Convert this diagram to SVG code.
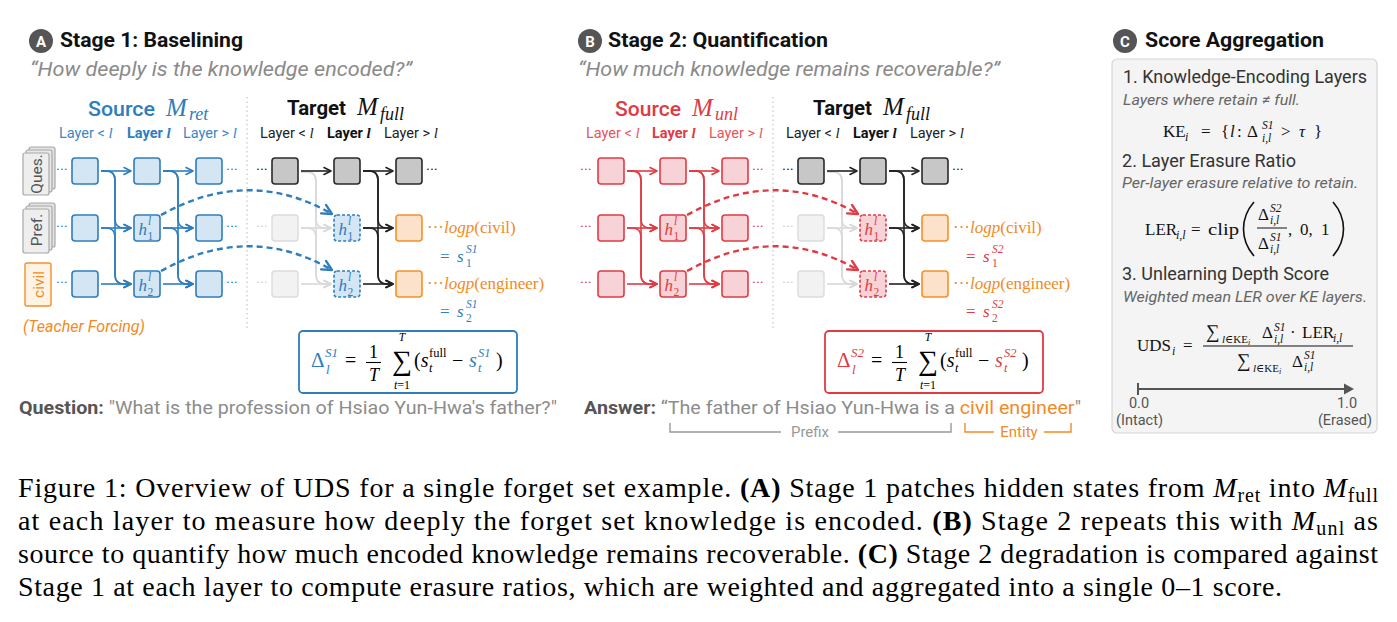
<svg xmlns="http://www.w3.org/2000/svg" width="1397" height="622" viewBox="0 0 1397 622">
<style>
.sans{font-family:Roboto,'Liberation Sans',sans-serif}
.math{font-family:'Liberation Serif','DejaVu Serif',serif}
.it{font-style:italic}
.b{font-weight:bold}
.sb{fill:#d4e5f3;stroke:#2e7dbd;stroke-width:1.6}
.sr{fill:#f7d2d6;stroke:#e03b44;stroke-width:1.6}
.tg{fill:#c7c7c7;stroke:#2a2a2a;stroke-width:1.6}
.tf{fill:#f2f2f2;stroke:#dcdcdc;stroke-width:1.4}
.or{fill:#fde2cb;stroke:#f5902a;stroke-width:1.6}
.pb{fill:#d4e5f3;stroke:#2e7dbd;stroke-width:1.6;stroke-dasharray:3 2}
.pr{fill:#f7d2d6;stroke:#e03b44;stroke-width:1.6;stroke-dasharray:3 2}
.cb{fill:none;stroke:#2e7dbd;stroke-width:1.6}
.cr{fill:none;stroke:#e03b44;stroke-width:1.6}
.ck{fill:none;stroke:#222;stroke-width:1.6}
.cg{fill:none;stroke:#d9d9d9;stroke-width:1.6}
.db{fill:none;stroke:#2e7dbd;stroke-width:2.4;stroke-dasharray:6 4}
.dr{fill:none;stroke:#e03b44;stroke-width:2.4;stroke-dasharray:6 4}
.sep{stroke:#c8c8c8;stroke-width:1.3;stroke-dasharray:1.5 3}
.blue{fill:#2e7dbd}
.red{fill:#e03b44}
.orange{fill:#f28a24}
.lay{font-family:Roboto,'Liberation Sans',sans-serif;font-size:14.5px}
.cap{font-family:'Liberation Serif','Times New Roman',serif;font-size:28px;fill:#000}
</style>
<defs>
<marker id="mb" viewBox="0 0 10 10" refX="9" refY="5" markerWidth="10" markerHeight="10" markerUnits="userSpaceOnUse" orient="auto"><path d="M2,1.5 L9,5 L2,8.5" fill="none" stroke="#2e7dbd" stroke-width="1.6" stroke-linecap="round" stroke-linejoin="round"/></marker>
<marker id="mr" viewBox="0 0 10 10" refX="9" refY="5" markerWidth="10" markerHeight="10" markerUnits="userSpaceOnUse" orient="auto"><path d="M2,1.5 L9,5 L2,8.5" fill="none" stroke="#e03b44" stroke-width="1.6" stroke-linecap="round" stroke-linejoin="round"/></marker>
<marker id="mk" viewBox="0 0 10 10" refX="9" refY="5" markerWidth="10" markerHeight="10" markerUnits="userSpaceOnUse" orient="auto"><path d="M2,1.5 L9,5 L2,8.5" fill="none" stroke="#222" stroke-width="1.6" stroke-linecap="round" stroke-linejoin="round"/></marker>
<marker id="mg" viewBox="0 0 10 10" refX="9" refY="5" markerWidth="10" markerHeight="10" markerUnits="userSpaceOnUse" orient="auto"><path d="M2,1.5 L9,5 L2,8.5" fill="none" stroke="#d9d9d9" stroke-width="1.6" stroke-linecap="round" stroke-linejoin="round"/></marker>
<marker id="mdb" viewBox="0 0 12 12" refX="11" refY="6" markerWidth="13" markerHeight="13" markerUnits="userSpaceOnUse" orient="auto"><path d="M2,1.5 L11,6 L2,10.5" fill="none" stroke="#2e7dbd" stroke-width="2.2" stroke-linecap="round" stroke-linejoin="round"/></marker>
<marker id="mdr" viewBox="0 0 12 12" refX="11" refY="6" markerWidth="13" markerHeight="13" markerUnits="userSpaceOnUse" orient="auto"><path d="M2,1.5 L11,6 L2,10.5" fill="none" stroke="#e03b44" stroke-width="2.2" stroke-linecap="round" stroke-linejoin="round"/></marker>
</defs>
<rect width="1397" height="622" fill="#fff"/>

<!-- ===== Headers ===== -->
<g id="header-a">
<circle cx="41" cy="41" r="12" fill="#555"/>
<text class="sans b" x="41" y="46.5" font-size="15" fill="#fff" text-anchor="middle">A</text>
<text class="sans b" x="60" y="47" font-size="21" fill="#111" textLength="183" lengthAdjust="spacingAndGlyphs">Stage 1: Baselining</text>
<text class="sans it" x="30" y="76" font-size="20.5" fill="#8a8a8a" textLength="382" lengthAdjust="spacingAndGlyphs">“How deeply is the knowledge encoded?”</text>
</g>
<g id="header-b">
<circle cx="590" cy="41" r="12" fill="#555"/>
<text class="sans b" x="590" y="46.5" font-size="15" fill="#fff" text-anchor="middle">B</text>
<text class="sans b" x="608" y="47" font-size="21" fill="#111" textLength="220" lengthAdjust="spacingAndGlyphs">Stage 2: Quantification</text>
<text class="sans it" x="578" y="76" font-size="20.5" fill="#8a8a8a" textLength="422" lengthAdjust="spacingAndGlyphs">“How much knowledge remains recoverable?”</text>
</g>
<g id="header-c">
<circle cx="1125" cy="41" r="12" fill="#555"/>
<text class="sans b" x="1125" y="46.5" font-size="15" fill="#fff" text-anchor="middle">C</text>
<text class="sans b" x="1145" y="47" font-size="21" fill="#111" textLength="179" lengthAdjust="spacingAndGlyphs">Score Aggregation</text>
</g>

<!-- ===== Stage 1 titles ===== -->
<g id="s1-titles">
<text class="sans" x="88" y="116" font-size="21" font-weight="500" fill="#2e7dbd" textLength="67" lengthAdjust="spacingAndGlyphs">Source</text>
<text class="math it" x="166" y="116" font-size="25" fill="#2e7dbd">M</text>
<text class="math it" x="189" y="120" font-size="18" fill="#2e7dbd">ret</text>
<text class="lay" x="59" y="138" fill="#3b87c6">Layer &lt; <tspan class="math it" font-size="15">l</tspan></text>
<text class="lay b" x="127" y="138" fill="#2e7dbd">Layer <tspan class="math it b" font-size="15">l</tspan></text>
<text class="lay" x="183" y="138" fill="#3b87c6">Layer &gt; <tspan class="math it" font-size="15">l</tspan></text>
<line class="sep" x1="247" y1="97" x2="247" y2="330"/>
<text class="sans b" x="287" y="115" font-size="21" fill="#111" textLength="59" lengthAdjust="spacingAndGlyphs">Target</text>
<text class="math it" x="357" y="115" font-size="25" fill="#111">M</text>
<text class="math it" x="380" y="120" font-size="18" fill="#111">full</text>
<text class="lay" x="260" y="138" fill="#222">Layer &lt; <tspan class="math it" font-size="15">l</tspan></text>
<text class="lay b" x="327" y="138" fill="#111">Layer <tspan class="math it b" font-size="15">l</tspan></text>
<text class="lay" x="384" y="138" fill="#222">Layer &gt; <tspan class="math it" font-size="15">l</tspan></text>
</g>

<!-- ===== Stage 2 titles ===== -->
<g id="s2-titles">
<text class="sans" x="615" y="116" font-size="21" font-weight="500" fill="#e03b44" textLength="66" lengthAdjust="spacingAndGlyphs">Source</text>
<text class="math it" x="692" y="116" font-size="25" fill="#e03b44">M</text>
<text class="math it" x="715" y="120" font-size="18" fill="#e03b44">unl</text>
<text class="lay" x="586" y="138" fill="#e8545c">Layer &lt; <tspan class="math it" font-size="15">l</tspan></text>
<text class="lay b" x="652" y="138" fill="#e03b44">Layer <tspan class="math it b" font-size="15">l</tspan></text>
<text class="lay" x="709" y="138" fill="#e8545c">Layer &gt; <tspan class="math it" font-size="15">l</tspan></text>
<line class="sep" x1="773" y1="97" x2="773" y2="330"/>
<text class="sans b" x="813" y="115" font-size="21" fill="#111" textLength="59" lengthAdjust="spacingAndGlyphs">Target</text>
<text class="math it" x="883" y="115" font-size="25" fill="#111">M</text>
<text class="math it" x="906" y="120" font-size="18" fill="#111">full</text>
<text class="lay" x="786" y="138" fill="#222">Layer &lt; <tspan class="math it" font-size="15">l</tspan></text>
<text class="lay b" x="853" y="138" fill="#111">Layer <tspan class="math it b" font-size="15">l</tspan></text>
<text class="lay" x="910" y="138" fill="#222">Layer &gt; <tspan class="math it" font-size="15">l</tspan></text>
</g>

<!-- ===== Connectors ===== -->
<g id="connectors">
 <g id="s1-conn">
  <g class="cb" marker-end="url(#mb)">
   <path d="M101,171H131"/><path d="M101,228H131"/><path d="M101,284H131"/>
   <path d="M101,171H106Q115,171 115,180V219Q115,228 124,228H131"/>
   <path d="M101,171H106Q115,171 115,180V275Q115,284 124,284H131"/>
   <path d="M101,228H106Q115,228 115,237V275Q115,284 124,284H131"/>
   <path d="M163,171H193"/><path d="M163,228H193"/><path d="M163,284H193"/>
   <path d="M163,171H169Q178,171 178,180V219Q178,228 187,228H193"/>
   <path d="M163,171H169Q178,171 178,180V275Q178,284 187,284H193"/>
   <path d="M163,228H169Q178,228 178,237V275Q178,284 187,284H193"/>
  </g>
  <g class="cg" marker-end="url(#mg)">
   <path d="M301,228H331"/><path d="M301,284H331"/>
   <path d="M301,172H307Q316,172 316,181V219Q316,228 325,228H331"/>
   <path d="M301,172H307Q316,172 316,181V275Q316,284 325,284H331"/>
   <path d="M301,228H307Q316,228 316,237V275Q316,284 325,284H331"/>
  </g>
  <g class="ck" marker-end="url(#mk)">
   <path d="M301,171H331"/>
   <path d="M363,171H393"/><path d="M363,228H393"/><path d="M363,284H393"/>
   <path d="M363,171H369Q378,171 378,180V219Q378,228 387,228H393"/>
   <path d="M363,171H369Q378,171 378,180V275Q378,284 387,284H393"/>
   <path d="M363,228H369Q378,228 378,237V275Q378,284 387,284H393"/>
  </g>
  <path class="db" d="M161,215Q249,166 332,214" marker-end="url(#mdb)"/>
  <path class="db" d="M161,271Q249,222 332,270" marker-end="url(#mdb)"/>
 </g>
 <g id="s2-conn" transform="translate(526,0)">
  <g class="cr" marker-end="url(#mr)">
   <path d="M101,171H131"/><path d="M101,228H131"/><path d="M101,284H131"/>
   <path d="M101,171H106Q115,171 115,180V219Q115,228 124,228H131"/>
   <path d="M101,171H106Q115,171 115,180V275Q115,284 124,284H131"/>
   <path d="M101,228H106Q115,228 115,237V275Q115,284 124,284H131"/>
   <path d="M163,171H193"/><path d="M163,228H193"/><path d="M163,284H193"/>
   <path d="M163,171H169Q178,171 178,180V219Q178,228 187,228H193"/>
   <path d="M163,171H169Q178,171 178,180V275Q178,284 187,284H193"/>
   <path d="M163,228H169Q178,228 178,237V275Q178,284 187,284H193"/>
  </g>
  <g class="cg" marker-end="url(#mg)">
   <path d="M301,228H331"/><path d="M301,284H331"/>
   <path d="M301,172H307Q316,172 316,181V219Q316,228 325,228H331"/>
   <path d="M301,172H307Q316,172 316,181V275Q316,284 325,284H331"/>
   <path d="M301,228H307Q316,228 316,237V275Q316,284 325,284H331"/>
  </g>
  <g class="ck" marker-end="url(#mk)">
   <path d="M301,171H331"/>
   <path d="M363,171H393"/><path d="M363,228H393"/><path d="M363,284H393"/>
   <path d="M363,171H369Q378,171 378,180V219Q378,228 387,228H393"/>
   <path d="M363,171H369Q378,171 378,180V275Q378,284 387,284H393"/>
   <path d="M363,228H369Q378,228 378,237V275Q378,284 387,284H393"/>
  </g>
  <path class="dr" d="M161,215Q249,166 332,214" marker-end="url(#mdr)"/>
  <path class="dr" d="M161,271Q249,222 332,270" marker-end="url(#mdr)"/>
 </g>
</g>

<!-- ===== Stage 1 input cards ===== -->
<g id="card-ques">
 <rect x="29" y="147" width="26" height="42" rx="2" fill="#e2e2e2" stroke="#a8a8a8" stroke-width="1.2"/>
 <rect x="26" y="150" width="26" height="42" rx="2" fill="#e8e8e8" stroke="#a8a8a8" stroke-width="1.2"/>
 <rect x="23" y="153" width="26" height="42" rx="2" fill="#eeeeee" stroke="#a8a8a8" stroke-width="1.2"/>
 <text class="sans" transform="translate(41.5,174) rotate(-90)" font-size="15.5" fill="#555" text-anchor="middle">Ques.</text>
</g>
<g id="card-pref">
 <rect x="29" y="203" width="26" height="44" rx="2" fill="#e2e2e2" stroke="#a8a8a8" stroke-width="1.2"/>
 <rect x="26" y="206" width="26" height="44" rx="2" fill="#e8e8e8" stroke="#a8a8a8" stroke-width="1.2"/>
 <rect x="23" y="209" width="26" height="44" rx="2" fill="#eeeeee" stroke="#a8a8a8" stroke-width="1.2"/>
 <text class="sans" transform="translate(41.5,230) rotate(-90)" font-size="15.5" fill="#555" text-anchor="middle">Pref.</text>
</g>
<g id="card-civil">
 <rect x="25" y="263" width="26" height="43" rx="2" fill="#fff3e6" stroke="#f5902a" stroke-width="1.4"/>
 <text class="sans" transform="translate(43.5,284.5) rotate(-90)" font-size="15.5" fill="#f28a24" text-anchor="middle">civil</text>
</g>
<text id="teacher-forcing" class="sans it" x="23" y="332" font-size="16" fill="#f28a24" textLength="122" lengthAdjust="spacingAndGlyphs">(Teacher Forcing)</text>

<!-- ===== Stage 1 nodes ===== -->
<g id="s1-dots" class="sans" font-size="15">
 <text x="56" y="175" fill="#2e7dbd">···</text><text x="56" y="232" fill="#2e7dbd">···</text><text x="56" y="288" fill="#2e7dbd">···</text>
 <text x="226" y="175" fill="#2e7dbd">···</text><text x="226" y="232" fill="#2e7dbd">···</text><text x="226" y="288" fill="#2e7dbd">···</text>
 <text x="256" y="175" fill="#222">···</text><text x="256" y="232" fill="#cfcfcf">···</text><text x="256" y="288" fill="#cfcfcf">···</text>
 <text x="426" y="175" fill="#222">···</text>
</g>
<g id="s1-src-r1c1"><rect class="sb" x="72" y="158" width="26" height="26" rx="3"/></g>
<g id="s1-src-r2c1"><rect class="sb" x="72" y="215" width="26" height="26" rx="3"/></g>
<g id="s1-src-r3c1"><rect class="sb" x="72" y="271" width="26" height="26" rx="3"/></g>
<g id="s1-src-r1c2"><rect class="sb" x="134" y="158" width="26" height="26" rx="3"/></g>
<g id="s1-src-h1"><rect class="sb" x="134" y="215" width="26" height="26" rx="3"/>
 <text class="math it blue" x="138.5" y="234.5" font-size="17">h</text><text class="math it blue" x="148" y="225" font-size="11.5">l</text><text class="math blue" x="147.5" y="239.5" font-size="11.5">1</text></g>
<g id="s1-src-h2"><rect class="sb" x="134" y="271" width="26" height="26" rx="3"/>
 <text class="math it blue" x="138.5" y="290.5" font-size="17">h</text><text class="math it blue" x="148" y="281" font-size="11.5">l</text><text class="math blue" x="147.5" y="295.5" font-size="11.5">2</text></g>
<g id="s1-src-r1c3"><rect class="sb" x="196" y="158" width="26" height="26" rx="3"/></g>
<g id="s1-src-r2c3"><rect class="sb" x="196" y="215" width="26" height="26" rx="3"/></g>
<g id="s1-src-r3c3"><rect class="sb" x="196" y="271" width="26" height="26" rx="3"/></g>
<g id="s1-tgt-r1c1"><rect class="tg" x="272" y="158" width="26" height="26" rx="3"/></g>
<g id="s1-tgt-r2c1"><rect class="tf" x="272" y="215" width="26" height="26" rx="3"/></g>
<g id="s1-tgt-r3c1"><rect class="tf" x="272" y="271" width="26" height="26" rx="3"/></g>
<g id="s1-tgt-r1c2"><rect class="tg" x="334" y="158" width="26" height="26" rx="3"/></g>
<g id="s1-tgt-h1"><rect class="pb" x="334" y="215" width="26" height="26" rx="3"/>
 <text class="math it blue" x="338.5" y="234.5" font-size="17">h</text><text class="math it blue" x="348" y="225" font-size="11.5">l</text><text class="math blue" x="347.5" y="239.5" font-size="11.5">1</text></g>
<g id="s1-tgt-h2"><rect class="pb" x="334" y="271" width="26" height="26" rx="3"/>
 <text class="math it blue" x="338.5" y="290.5" font-size="17">h</text><text class="math it blue" x="348" y="281" font-size="11.5">l</text><text class="math blue" x="347.5" y="295.5" font-size="11.5">2</text></g>
<g id="s1-tgt-r1c3"><rect class="tg" x="396" y="158" width="26" height="26" rx="3"/></g>
<g id="s1-out-civil"><rect class="or" x="396" y="215" width="26" height="26" rx="3"/>
 <text class="math orange" x="427" y="233" font-size="17">···<tspan class="it">logp</tspan>(civil)</text>
 <text class="math blue" x="440" y="262" font-size="17">=</text><text class="math it blue" x="457" y="262" font-size="17">s</text>
 <text class="math it blue" x="466" y="253" font-size="11.5">S1</text><text class="math blue" x="466" y="267" font-size="11.5">1</text></g>
<g id="s1-out-engineer"><rect class="or" x="396" y="271" width="26" height="26" rx="3"/>
 <text class="math orange" x="427" y="289" font-size="17">···<tspan class="it">logp</tspan>(engineer)</text>
 <text class="math blue" x="440" y="317" font-size="17">=</text><text class="math it blue" x="457" y="317" font-size="17">s</text>
 <text class="math it blue" x="466" y="308" font-size="11.5">S1</text><text class="math blue" x="466" y="322" font-size="11.5">2</text></g>

<g id="s1-formula">
 <rect x="299" y="331" width="218" height="62" rx="4" fill="#fff" stroke="#2e7dbd" stroke-width="1.8"/>
 <text class="math blue" font-size="21" x="311" y="367">Δ</text>
 <text class="math it blue" font-size="13" x="325" y="357">S1</text>
 <text class="math it blue" font-size="13" x="326" y="374">l</text>
 <text class="math" font-size="20" x="345" y="367">=</text>
 <text class="math" font-size="18" x="373.5" y="358" text-anchor="middle">1</text>
 <line x1="366" y1="362.5" x2="381" y2="362.5" stroke="#000" stroke-width="1.1"/>
 <text class="math it" font-size="18" x="374" y="381" text-anchor="middle">T</text>
 <text class="math it" font-size="11.5" x="402" y="341" text-anchor="middle">T</text>
 <text class="math" font-size="28" x="402" y="370" text-anchor="middle">∑</text>
 <text class="math" font-size="12" x="402" y="389" text-anchor="middle"><tspan class="it">t</tspan>=1</text>
 <text class="math" font-size="20" x="414" y="367">(<tspan class="it">s</tspan></text>
 <text class="math" font-size="12.5" x="429" y="357">full</text>
 <text class="math it" font-size="12.5" x="429" y="372">t</text>
 <text class="math" font-size="20" x="452" y="367">−</text>
 <text class="math it blue" font-size="20" x="469" y="367">s</text>
 <text class="math it blue" font-size="12.5" x="478" y="357">S1</text>
 <text class="math it blue" font-size="12.5" x="478" y="372">t</text>
 <text class="math" font-size="20" x="496" y="367">)</text>
</g>
<g id="question">
 <text class="sans" x="19" y="414" font-size="18.5" fill="#8c8c8c" textLength="538" lengthAdjust="spacingAndGlyphs"><tspan class="b" fill="#555">Question:</tspan> "What is the profession of Hsiao Yun-Hwa's father?"</text>
</g>

<!-- ===== Stage 2 nodes ===== -->
<g id="stage2" transform="translate(526,0)">
<g id="s2-dots" class="sans" font-size="15">
 <text x="54" y="175" fill="#e03b44">···</text><text x="54" y="232" fill="#e03b44">···</text><text x="54" y="288" fill="#e03b44">···</text>
 <text x="226" y="175" fill="#e03b44">···</text><text x="226" y="232" fill="#e03b44">···</text><text x="226" y="288" fill="#e03b44">···</text>
 <text x="256" y="175" fill="#222">···</text><text x="256" y="232" fill="#cfcfcf">···</text><text x="256" y="288" fill="#cfcfcf">···</text>
 <text x="426" y="175" fill="#222">···</text>
</g>
<g id="s2-src-r1c1"><rect class="sr" x="72" y="158" width="26" height="26" rx="3"/></g>
<g id="s2-src-r2c1"><rect class="sr" x="72" y="215" width="26" height="26" rx="3"/></g>
<g id="s2-src-r3c1"><rect class="sr" x="72" y="271" width="26" height="26" rx="3"/></g>
<g id="s2-src-r1c2"><rect class="sr" x="134" y="158" width="26" height="26" rx="3"/></g>
<g id="s2-src-h1"><rect class="sr" x="134" y="215" width="26" height="26" rx="3"/>
 <text class="math it red" x="138.5" y="234.5" font-size="17">h</text><text class="math it red" x="148" y="225" font-size="11.5">l</text><text class="math red" x="147.5" y="239.5" font-size="11.5">1</text></g>
<g id="s2-src-h2"><rect class="sr" x="134" y="271" width="26" height="26" rx="3"/>
 <text class="math it red" x="138.5" y="290.5" font-size="17">h</text><text class="math it red" x="148" y="281" font-size="11.5">l</text><text class="math red" x="147.5" y="295.5" font-size="11.5">2</text></g>
<g id="s2-src-r1c3"><rect class="sr" x="196" y="158" width="26" height="26" rx="3"/></g>
<g id="s2-src-r2c3"><rect class="sr" x="196" y="215" width="26" height="26" rx="3"/></g>
<g id="s2-src-r3c3"><rect class="sr" x="196" y="271" width="26" height="26" rx="3"/></g>
<g id="s2-tgt-r1c1"><rect class="tg" x="272" y="158" width="26" height="26" rx="3"/></g>
<g id="s2-tgt-r2c1"><rect class="tf" x="272" y="215" width="26" height="26" rx="3"/></g>
<g id="s2-tgt-r3c1"><rect class="tf" x="272" y="271" width="26" height="26" rx="3"/></g>
<g id="s2-tgt-r1c2"><rect class="tg" x="334" y="158" width="26" height="26" rx="3"/></g>
<g id="s2-tgt-h1"><rect class="pr" x="334" y="215" width="26" height="26" rx="3"/>
 <text class="math it red" x="338.5" y="234.5" font-size="17">h</text><text class="math it red" x="348" y="225" font-size="11.5">l</text><text class="math red" x="347.5" y="239.5" font-size="11.5">1</text></g>
<g id="s2-tgt-h2"><rect class="pr" x="334" y="271" width="26" height="26" rx="3"/>
 <text class="math it red" x="338.5" y="290.5" font-size="17">h</text><text class="math it red" x="348" y="281" font-size="11.5">l</text><text class="math red" x="347.5" y="295.5" font-size="11.5">2</text></g>
<g id="s2-tgt-r1c3"><rect class="tg" x="396" y="158" width="26" height="26" rx="3"/></g>
<g id="s2-out-civil"><rect class="or" x="396" y="215" width="26" height="26" rx="3"/>
 <text class="math orange" x="427" y="233" font-size="17">···<tspan class="it">logp</tspan>(civil)</text>
 <text class="math red" x="440" y="262" font-size="17">=</text><text class="math it red" x="457" y="262" font-size="17">s</text>
 <text class="math it red" x="466" y="253" font-size="11.5">S2</text><text class="math red" x="466" y="267" font-size="11.5">1</text></g>
<g id="s2-out-engineer"><rect class="or" x="396" y="271" width="26" height="26" rx="3"/>
 <text class="math orange" x="427" y="289" font-size="17">···<tspan class="it">logp</tspan>(engineer)</text>
 <text class="math red" x="440" y="317" font-size="17">=</text><text class="math it red" x="457" y="317" font-size="17">s</text>
 <text class="math it red" x="466" y="308" font-size="11.5">S2</text><text class="math red" x="466" y="322" font-size="11.5">2</text></g>
<g id="s2-formula">
 <rect x="299" y="331" width="218" height="62" rx="4" fill="#fff" stroke="#e03b44" stroke-width="1.8"/>
 <text class="math red" font-size="21" x="311" y="367">Δ</text>
 <text class="math it red" font-size="13" x="325" y="357">S2</text>
 <text class="math it red" font-size="13" x="326" y="374">l</text>
 <text class="math" font-size="20" x="345" y="367">=</text>
 <text class="math" font-size="18" x="373.5" y="358" text-anchor="middle">1</text>
 <line x1="366" y1="362.5" x2="381" y2="362.5" stroke="#000" stroke-width="1.1"/>
 <text class="math it" font-size="18" x="374" y="381" text-anchor="middle">T</text>
 <text class="math it" font-size="11.5" x="402" y="341" text-anchor="middle">T</text>
 <text class="math" font-size="28" x="402" y="370" text-anchor="middle">∑</text>
 <text class="math" font-size="12" x="402" y="389" text-anchor="middle"><tspan class="it">t</tspan>=1</text>
 <text class="math" font-size="20" x="414" y="367">(<tspan class="it">s</tspan></text>
 <text class="math" font-size="12.5" x="429" y="357">full</text>
 <text class="math it" font-size="12.5" x="429" y="372">t</text>
 <text class="math" font-size="20" x="452" y="367">−</text>
 <text class="math it red" font-size="20" x="469" y="367">s</text>
 <text class="math it red" font-size="12.5" x="478" y="357">S2</text>
 <text class="math it red" font-size="12.5" x="478" y="372">t</text>
 <text class="math" font-size="20" x="496" y="367">)</text>
</g>
</g>
<g id="answer">
 <text class="sans" x="584" y="414" font-size="18.5" fill="#8c8c8c" textLength="497" lengthAdjust="spacingAndGlyphs"><tspan class="b" fill="#555">Answer:</tspan> “The father of Hsiao Yun-Hwa is a <tspan fill="#f28a24">civil engineer</tspan>"</text>
 <path d="M670,423V432H781M838,432H951V423" fill="none" stroke="#999" stroke-width="1.4"/>
 <text class="sans" x="810" y="437" font-size="15" fill="#999" text-anchor="middle">Prefix</text>
 <path d="M965,423V432H994M1044,432H1071V423" fill="none" stroke="#f28a24" stroke-width="1.4"/>
 <text class="sans" x="1019" y="437" font-size="15" fill="#f28a24" text-anchor="middle">Entity</text>
</g>

<!-- ===== Panel C ===== -->
<g id="panel-c">
 <rect x="1112" y="59" width="265" height="374" rx="5" fill="#f4f4f4" stroke="#d6d6d6" stroke-width="1.2"/>
 <text class="sans" x="1123" y="83" font-size="18" fill="#333" textLength="244" lengthAdjust="spacingAndGlyphs">1. Knowledge-Encoding Layers</text>
 <text class="sans it" x="1123" y="105" font-size="15.5" fill="#666" textLength="177" lengthAdjust="spacingAndGlyphs">Layers where retain ≠ full.</text>
 <g id="ke-formula" class="math" font-size="17" fill="#111">
  <text x="1163" y="137">KE</text><text class="it" x="1185" y="141" font-size="12">i</text>
  <text x="1201" y="137">=</text><text x="1221" y="137">{</text><text class="it" x="1230" y="137">l</text>
  <text x="1237" y="137">:</text><text x="1247" y="137">Δ</text>
  <text class="it" x="1262" y="129" font-size="11.5">S1</text><text class="it" x="1262" y="142" font-size="11.5">i,l</text>
  <text x="1281" y="137">&gt;</text><text class="it" x="1299" y="137">τ</text><text x="1314" y="137">}</text>
 </g>
 <text class="sans" x="1122" y="167" font-size="18" fill="#333" textLength="174" lengthAdjust="spacingAndGlyphs">2. Layer Erasure Ratio</text>
 <text class="sans it" x="1122" y="188" font-size="15.5" fill="#666" textLength="236" lengthAdjust="spacingAndGlyphs">Per-layer erasure relative to retain.</text>
 <g id="ler-formula" class="math" font-size="17" fill="#111">
  <text x="1145" y="235">LER</text><text class="it" x="1176" y="239" font-size="12">i,l</text>
  <text x="1191" y="235">=</text><text x="1208" y="235" textLength="31" lengthAdjust="spacingAndGlyphs">clip</text>
  <path d="M1254,202C1240,218 1240,240 1254,256" fill="none" stroke="#111" stroke-width="1.6"/>
  <text x="1258" y="220">Δ</text><text class="it" x="1270" y="212" font-size="11.5">S2</text><text class="it" x="1270" y="224" font-size="11.5">i,l</text>
  <line x1="1257" y1="228" x2="1287" y2="228" stroke="#111" stroke-width="1"/>
  <text x="1258" y="249">Δ</text><text class="it" x="1270" y="241" font-size="11.5">S1</text><text class="it" x="1270" y="253" font-size="11.5">i,l</text>
  <text x="1288" y="235">,</text><text x="1300" y="235">0,</text><text x="1321" y="235">1</text>
  <path d="M1333,202C1347,218 1347,240 1333,256" fill="none" stroke="#111" stroke-width="1.6"/>
 </g>
 <text class="sans" x="1122" y="280" font-size="18" fill="#333" textLength="207" lengthAdjust="spacingAndGlyphs">3. Unlearning Depth Score</text>
 <text class="sans it" x="1123" y="302" font-size="15.5" fill="#666" textLength="244" lengthAdjust="spacingAndGlyphs">Weighted mean LER over KE layers.</text>
 <g id="uds-formula" class="math" font-size="17" fill="#111">
  <text x="1137" y="351">UDS</text><text class="it" x="1172" y="355" font-size="12">i</text>
  <text x="1183" y="351">=</text>
  <line x1="1203" y1="346" x2="1353" y2="346" stroke="#111" stroke-width="1"/>
  <text x="1206" y="338" font-size="19">∑</text>
  <text x="1222" y="343" font-size="11"><tspan class="it">l</tspan>∈KE<tspan class="it" font-size="8" dy="2">i</tspan></text>
  <text x="1262" y="338">Δ</text><text class="it" x="1274" y="331" font-size="11.5">S1</text><text class="it" x="1274" y="343" font-size="11.5">i,l</text>
  <text x="1290" y="338">·</text><text x="1302" y="338">LER</text><text class="it" x="1333" y="342" font-size="11.5">i,l</text>
  <text x="1237" y="367" font-size="19">∑</text>
  <text x="1253" y="372" font-size="11"><tspan class="it">l</tspan>∈KE<tspan class="it" font-size="8" dy="2">i</tspan></text>
  <text x="1292" y="367">Δ</text><text class="it" x="1304" y="359" font-size="11.5">S1</text><text class="it" x="1304" y="371" font-size="11.5">i,l</text>
 </g>
 <g id="uds-axis">
  <path d="M1138,383V395M1138,389H1346" stroke="#555" stroke-width="2" fill="none"/>
  <path d="M1344,383.5L1354,389L1344,394.5Z" fill="#555"/>
  <text class="sans" x="1139" y="408" font-size="14.5" fill="#555" text-anchor="middle">0.0</text>
  <text class="sans" x="1116" y="425" font-size="14.5" fill="#555">(Intact)</text>
  <text class="sans" x="1347" y="408" font-size="14.5" fill="#555" text-anchor="middle">1.0</text>
  <text class="sans" x="1372" y="425" font-size="14.5" fill="#555" text-anchor="end">(Erased)</text>
 </g>
</g>

<!-- ===== Caption ===== -->
<g id="caption">
 <text class="cap" x="18" y="497" textLength="1360" lengthAdjust="spacing">Figure 1: Overview of UDS for a single forget set example. <tspan font-weight="bold">(A)</tspan> Stage 1 patches hidden states from <tspan font-style="italic">M</tspan><tspan font-size="20" dy="5">ret</tspan><tspan dy="-5"> into </tspan><tspan font-style="italic">M</tspan><tspan font-size="20" dy="5">full</tspan></text>
 <text class="cap" x="18" y="530" textLength="1360" lengthAdjust="spacing">at each layer to measure how deeply the forget set knowledge is encoded. <tspan font-weight="bold">(B)</tspan> Stage 2 repeats this with <tspan font-style="italic">M</tspan><tspan font-size="20" dy="5">unl</tspan><tspan dy="-5"> as</tspan></text>
 <text class="cap" x="18" y="563" textLength="1360" lengthAdjust="spacing">source to quantify how much encoded knowledge remains recoverable. <tspan font-weight="bold">(C)</tspan> Stage 2 degradation is compared against</text>
 <text class="cap" x="18" y="596" textLength="1264" lengthAdjust="spacing">Stage 1 at each layer to compute erasure ratios, which are weighted and aggregated into a single 0–1 score.</text>
</g>
</svg>
